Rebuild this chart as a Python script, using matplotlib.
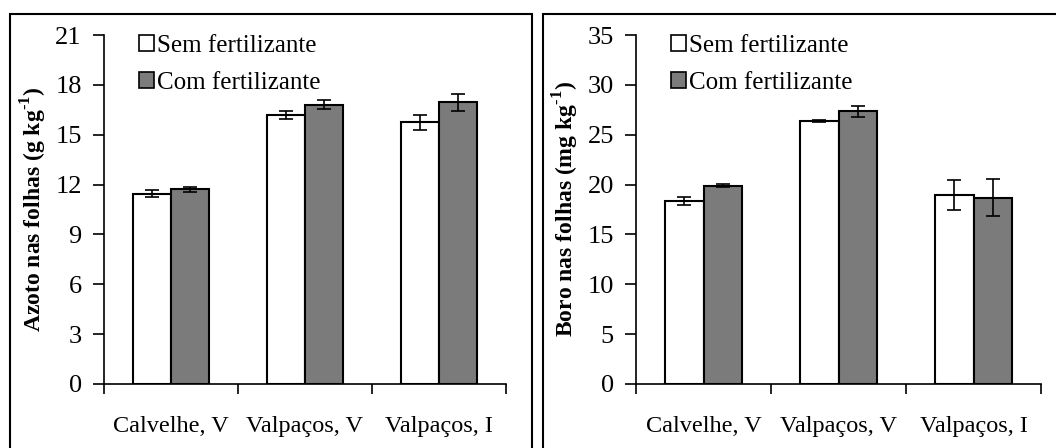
import numpy as np
import matplotlib
matplotlib.use("Agg")
import matplotlib.pyplot as plt
from matplotlib.patches import Patch, Rectangle

plt.rcParams['font.family'] = ['Liberation Serif', 'DejaVu Serif']
plt.rcParams['mathtext.fontset'] = 'custom'
plt.rcParams['mathtext.rm'] = 'Liberation Serif:bold'
plt.rcParams['mathtext.bf'] = 'Liberation Serif:bold'

# dados
locais = ['Calvelhe, V', 'Valpaços, V', 'Valpaços, I']
series = ['Sem fertilizante', 'Com fertilizante']

azoto_sem = [11.45, 16.2, 15.75]
azoto_sem_err = [0.22, 0.25, 0.45]
azoto_com = [11.72, 16.8, 16.95]
azoto_com_err = [0.16, 0.28, 0.52]

boro_sem = [18.4, 26.4, 18.95]
boro_sem_err = [0.4, 0.12, 1.5]
boro_com = [19.9, 27.35, 18.7]
boro_com_err = [0.15, 0.55, 1.85]

cor_sem = 'white'
cor_com = '#7b7b7b'

fig = plt.figure(figsize=(10.56, 4.48), dpi=100)

# caixas à volta de cada painel
fig.add_artist(Rectangle((10/1056, -0.05), (532-10)/1056, 1.05 - 14/448,
                         transform=fig.transFigure, fill=False, edgecolor='black', lw=1.5))
fig.add_artist(Rectangle((543/1056, -0.05), 0.5, 1.05 - 14/448,
                         transform=fig.transFigure, fill=False, edgecolor='black', lw=1.5))

ax1 = fig.add_axes([104/1056, 1 - 384/448, (506-104)/1056, (384-35)/448])
ax2 = fig.add_axes([636/1056, 1 - 384/448, (1041-636)/1056, (384-35)/448])


def desenhar(ax, sem, sem_err, com, com_err, ymax, ystep, ylabel):
    x = np.arange(len(locais))
    w = 0.285
    ax.bar(x - w/2, sem, w, color=cor_sem, edgecolor='black', linewidth=1.5, zorder=2)
    ax.bar(x + w/2, com, w, color=cor_com, edgecolor='black', linewidth=1.5, zorder=2)
    ax.errorbar(x - w/2, sem, yerr=sem_err, fmt='none', ecolor='black',
                elinewidth=1.2, capsize=5, capthick=1.2, zorder=3)
    ax.errorbar(x + w/2, com, yerr=com_err, fmt='none', ecolor='black',
                elinewidth=1.2, capsize=5, capthick=1.2, zorder=3)
    ax.set_xlim(-0.5, len(locais) - 0.5)
    ax.set_ylim(0, ymax)
    ax.set_yticks(np.arange(0, ymax + 0.1, ystep))
    ax.set_xticks(x)
    ax.set_xticklabels(locais)
    ax.set_xticks(np.arange(-0.5, len(locais)), minor=True)
    ax.tick_params(axis='x', which='major', length=0, labelsize=17.5, pad=23)
    ax.tick_params(axis='x', which='minor', length=7, width=1.2, direction='out')
    ax.tick_params(axis='y', length=8, width=1.2, labelsize=19, pad=8)
    for s in ['top', 'right']:
        ax.spines[s].set_visible(False)
    ax.spines['left'].set_linewidth(1.2)
    ax.spines['bottom'].set_linewidth(1.2)
    ax.set_ylabel(ylabel, fontsize=17, fontweight='bold', labelpad=4.5)
    handles = [Patch(facecolor=cor_sem, edgecolor='black', lw=1.2),
               Patch(facecolor=cor_com, edgecolor='black', lw=1.2)]
    ax.legend(handles, series, loc='upper left', bbox_to_anchor=(0.03, 1.065),
              frameon=False, fontsize=18, handlelength=0.6, handleheight=0.6,
              handletextpad=0.15, labelspacing=0.6)


desenhar(ax1, azoto_sem, azoto_sem_err, azoto_com, azoto_com_err, 21, 3,
         r'Azoto nas folhas (g kg$^{\text{-1}}$)')
desenhar(ax2, boro_sem, boro_sem_err, boro_com, boro_com_err, 35, 5,
         r'Boro nas folhas (mg kg$^{\text{-1}}$)')

fig.savefig('out.png', dpi=100)
